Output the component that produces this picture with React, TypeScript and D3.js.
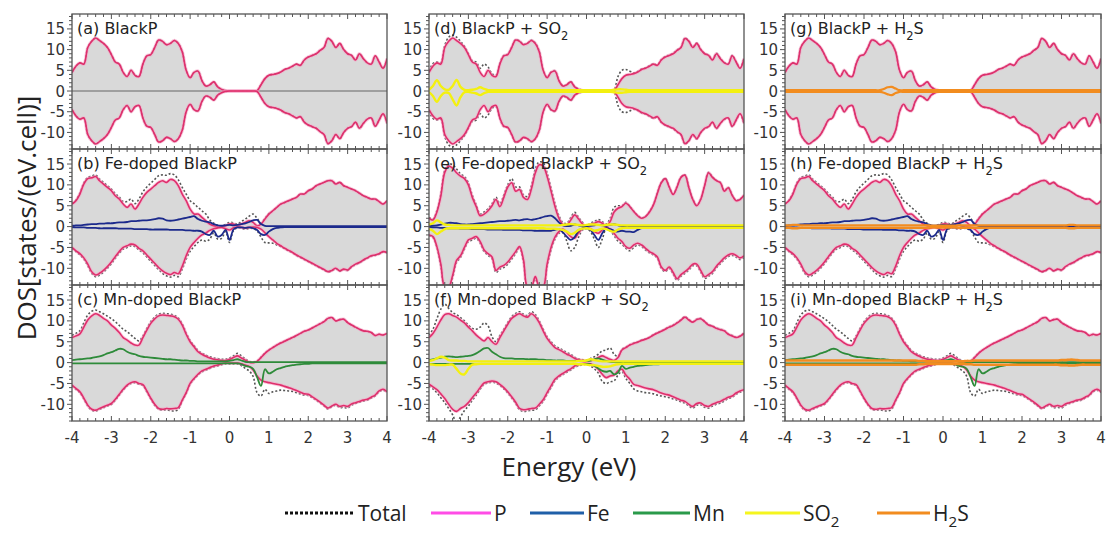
import React, { useEffect, useRef } from "react";
import * as d3 from "d3";

// energy grid, one sample every 0.1 eV from -4 to 4
const energy = d3.range(-40, 41).map((i) => i / 10);
const xTicks = [-4, -3, -2, -1, 0, 1, 2, 3, 4];
const yTicks = [-10, -5, 0, 5, 10, 15];

// ---- pristine black phosphorus (a, d, g)
const pUpBP = [
  4.5, 6.0, 6.8, 6.5, 10.5, 12.0, 12.8, 12.2, 11.5, 10.5,
  8.8, 7.0, 6.5, 4.5, 3.5, 5.0, 3.8, 3.5, 6.5, 8.5,
  8.8, 10.5, 12.3, 12.0, 11.2, 11.5, 12.2, 11.5, 9.5, 5.0,
  3.2, 4.5, 4.8, 2.5, 1.2, 1.5, 2.2, 1.0, 0.4, 0.1,
  0, 0, 0, 0, 0, 0, 0, 0.1, 1.5, 3.0,
  3.8, 4.0, 4.2, 4.6, 5.2, 5.5, 6.0, 6.5, 6.2, 7.5,
  8.2, 8.6, 9.0, 9.8, 10.5, 12.7, 12.0, 10.5, 11.5, 10.0,
  9.0, 8.6, 7.5, 9.0, 7.8, 6.8, 6.5, 8.5, 7.0, 5.5,
  7.8,
];
const pDnBP = [
  -4.5, -6.0, -6.8, -6.5, -10.5, -12.0, -12.8, -12.2, -11.5, -10.5,
  -8.8, -7.0, -6.5, -4.5, -3.5, -5.0, -3.8, -3.5, -6.5, -8.5,
  -8.8, -10.5, -12.3, -12.0, -11.2, -11.5, -12.2, -11.5, -9.5, -5.0,
  -3.2, -4.5, -4.8, -2.5, -1.2, -1.5, -2.2, -1.0, -0.4, -0.1,
  0, 0, 0, 0, 0, 0, 0, -0.1, -1.5, -3.0,
  -3.8, -4.0, -4.2, -4.6, -5.2, -5.5, -6.0, -6.5, -6.2, -7.5,
  -8.2, -8.6, -9.0, -9.8, -10.5, -12.7, -12.0, -10.5, -11.5, -10.0,
  -9.0, -8.6, -7.5, -9.0, -7.8, -6.8, -6.5, -8.5, -7.0, -5.5,
  -7.8,
];
const totUpD = [
  4.8, 6.6, 7.0, 6.8, 11.0, 13.0, 13.5, 13.0, 12.0, 10.8,
  9.0, 7.3, 7.0, 5.5, 6.5, 5.8, 4.2, 3.8, 6.7, 8.6,
  8.9, 10.6, 12.4, 12.1, 11.3, 11.6, 12.3, 11.6, 9.6, 5.1,
  3.3, 4.6, 4.9, 2.6, 1.3, 1.6, 2.3, 1.1, 0.5, 0.2,
  0.1, 0.1, 0.1, 0.1, 0.1, 0.1, 0.1, 0.3, 3.5, 5.0,
  5.2, 4.8, 4.4, 4.7, 5.3, 5.6, 6.1, 6.6, 6.3, 7.6,
  8.3, 8.7, 9.1, 9.9, 10.6, 12.8, 12.1, 10.6, 11.6, 10.1,
  9.1, 8.7, 7.6, 9.1, 7.9, 6.9, 6.6, 8.6, 7.1, 5.6,
  7.9,
];
const totDnD = [
  -4.8, -6.6, -7.0, -6.8, -11.0, -13.0, -13.5, -13.0, -12.0, -10.8,
  -9.0, -7.3, -7.0, -5.5, -6.5, -5.8, -4.2, -3.8, -6.7, -8.6,
  -8.9, -10.6, -12.4, -12.1, -11.3, -11.6, -12.3, -11.6, -9.6, -5.1,
  -3.3, -4.6, -4.9, -2.6, -1.3, -1.6, -2.3, -1.1, -0.5, -0.2,
  -0.1, -0.1, -0.1, -0.1, -0.1, -0.1, -0.1, -0.3, -3.5, -5.0,
  -5.2, -4.8, -4.4, -4.7, -5.3, -5.6, -6.1, -6.6, -6.3, -7.6,
  -8.3, -8.7, -9.1, -9.9, -10.6, -12.8, -12.1, -10.6, -11.6, -10.1,
  -9.1, -8.7, -7.6, -9.1, -7.9, -6.9, -6.6, -8.6, -7.1, -5.6,
  -7.9,
];

// ---- Fe-doped (b, h)
const pUpFe = [
  5.4, 6.2, 7.8, 10.2, 11.5, 11.7, 12.0, 11.0, 10.2, 9.4,
  8.6, 7.4, 6.6, 5.4, 4.6, 5.4, 4.2, 5.4, 7.0, 8.2,
  9.0, 9.8, 10.6, 11.0, 10.6, 11.3, 11.0, 9.8, 7.8, 6.2,
  4.2, 3.0, 3.0, 2.2, 1.4, 0.6, 0.2, 0, 0, 0.2,
  0.6, 0.6, 0.2, 0.6, 1.0, 1.4, 1.0, 0.2, 0.6, 1.8,
  3.0, 3.8, 4.6, 5.4, 5.8, 6.2, 6.6, 7.0, 7.8, 7.8,
  8.6, 9.0, 9.8, 10.2, 10.6, 11.0, 11.0, 10.2, 10.6, 9.8,
  9.4, 9.0, 8.6, 8.0, 7.4, 7.0, 6.6, 6.6, 6.0, 5.4,
  6.2,
];
const pDnFe = [
  -5.0, -5.8, -6.5, -7.5, -9.0, -10.8, -11.6, -11.2, -10.5, -9.6,
  -8.5, -7.2, -6.0, -5.0, -4.6, -4.2, -4.4, -5.2, -5.8, -6.8,
  -7.8, -8.8, -9.8, -10.6, -11.2, -11.5, -11.0, -11.3, -9.5, -7.0,
  -5.0, -3.8, -2.8, -2.0, -1.5, -0.9, -0.5, -0.3, -0.2, -0.5,
  -0.8, -0.3, -0.1, -0.2, -0.3, -0.2, -0.1, -0.2, -0.6, -1.5,
  -2.4, -3.2, -4.0, -4.6, -5.2, -5.7, -6.2, -6.8, -7.3, -7.8,
  -8.3, -8.8, -9.3, -9.8, -10.3, -10.8, -10.5, -10.0, -10.6, -10.2,
  -10.4, -9.6, -9.0, -8.6, -8.0, -7.5, -7.0, -6.8, -6.5, -6.0,
  -6.2,
];
const totUpFe = [
  5.5, 6.4, 8.0, 10.5, 11.8, 12.1, 12.4, 11.4, 10.6, 9.8,
  9.0, 7.9, 7.1, 6.0, 6.0, 6.6, 5.5, 6.6, 8.3, 9.5,
  10.4, 11.3, 12.2, 12.4, 12.3, 12.7, 12.4, 11.2, 9.4, 7.8,
  6.2, 5.5, 4.6, 3.8, 3.0, 1.6, 0.8, 0.3, 0.2, 0.5,
  1.0, 0.9, 0.6, 1.2, 1.8, 2.5, 3.0, 2.0, 0.9, 2.0,
  3.1, 3.8, 4.6, 5.4, 5.8, 6.2, 6.6, 7.0, 7.8, 7.8,
  8.6, 9.0, 9.8, 10.2, 10.6, 11.0, 11.0, 10.2, 10.6, 9.8,
  9.4, 9.0, 8.6, 8.0, 7.4, 7.0, 6.6, 6.6, 6.0, 5.4,
  6.2,
];
const totDnFe = [
  -5.2, -6.0, -6.8, -7.8, -9.4, -11.2, -12.0, -11.6, -10.9, -10.0,
  -8.9, -7.6, -6.4, -5.4, -5.0, -4.6, -4.8, -5.6, -6.3, -7.3,
  -8.3, -9.3, -10.3, -11.2, -11.8, -12.1, -11.7, -12.0, -10.2, -7.8,
  -5.9, -4.8, -3.8, -3.2, -3.5, -3.0, -1.5, -3.0, -2.8, -1.2,
  -3.8, -1.0, -0.3, -0.4, -0.6, -0.4, -0.5, -1.0, -2.5, -3.8,
  -3.9, -4.0, -4.4, -4.8, -5.3, -5.8, -6.3, -6.9, -7.4, -7.9,
  -8.4, -8.9, -9.4, -9.9, -10.4, -10.9, -10.6, -10.1, -10.7, -10.3,
  -10.5, -9.7, -9.1, -8.7, -8.1, -7.6, -7.1, -6.9, -6.6, -6.1,
  -6.3,
];
const feUpB = [
  0.2, 0.3, 0.3, 0.4, 0.5, 0.6, 0.6, 0.7, 0.7, 0.8,
  0.8, 0.9, 1.0, 1.0, 1.1, 1.3, 1.3, 1.4, 1.5, 1.5,
  1.6, 1.8, 2.0, 1.9, 1.5, 1.4, 1.5, 1.7, 1.9, 2.1,
  2.3, 2.5, 1.8, 1.4, 1.2, 1.0, 0.6, 0.3, 0.2, 0.3,
  0.4, 0.3, 0.4, 0.6, 0.8, 1.1, 1.5, 1.6, 0.6, 0.2,
  0.1, 0.1, 0.1, 0.1, 0.1, 0.1, 0.1, 0.1, 0.1, 0.1,
  0.1, 0.1, 0.1, 0.1, 0.1, 0.1, 0.1, 0.1, 0.1, 0.1,
  0.1, 0.1, 0.1, 0.1, 0.1, 0.1, 0.1, 0.1, 0.1, 0.1,
  0.1,
];
const feDnB = [
  -0.1, -0.2, -0.2, -0.2, -0.3, -0.3, -0.3, -0.4, -0.4, -0.4,
  -0.4, -0.4, -0.5, -0.5, -0.5, -0.5, -0.6, -0.6, -0.6, -0.6,
  -0.7, -0.7, -0.7, -0.7, -0.7, -0.8, -0.8, -0.8, -0.8, -0.9,
  -0.9, -1.0, -1.0, -1.2, -1.8, -2.0, -1.0, -2.4, -2.0, -0.8,
  -3.2, -0.7, -0.2, -0.2, -0.3, -0.2, -0.4, -0.8, -1.8, -2.0,
  -1.2, -0.6, -0.3, -0.2, -0.1, -0.1, -0.1, -0.1, -0.1, -0.1,
  -0.1, -0.1, -0.1, -0.1, -0.1, -0.1, -0.1, -0.1, -0.1, -0.1,
  -0.1, -0.1, -0.1, -0.1, -0.1, -0.1, -0.1, -0.1, -0.1, -0.1,
  -0.1,
];

// ---- Mn-doped (c, i)
const pUpMn = [
  6.0, 6.4, 6.9, 8.5, 10.2, 11.2, 11.7, 11.3, 10.6, 10.0,
  9.0, 8.2, 7.2, 6.0, 5.4, 4.7, 4.2, 4.2, 6.0, 7.8,
  9.4, 10.5, 11.2, 11.4, 11.3, 11.2, 11.0, 10.4, 9.0, 6.8,
  5.0, 3.8, 2.6, 2.0, 1.5, 1.1, 0.8, 0.7, 0.5, 0.5,
  0.8, 1.2, 1.6, 1.1, 0.6, 0.1, 0, 0.3, 1.2, 2.2,
  3.0, 3.6, 4.2, 4.7, 5.1, 5.6, 6.0, 6.5, 7.0, 7.5,
  7.8, 8.3, 8.8, 9.3, 9.8, 10.6, 10.8, 10.0, 10.3, 10.4,
  9.6, 9.0, 8.5, 8.0, 7.6, 7.5, 7.2, 6.5, 6.8, 6.6,
  7.0,
];
const pDnMn = [
  -5.4, -6.2, -7.0, -8.5, -10.2, -11.2, -11.4, -11.0, -10.6, -10.2,
  -9.8, -8.8, -7.6, -6.4, -5.4, -4.8, -4.6, -5.0, -5.3, -6.8,
  -8.5, -10.0, -11.0, -11.2, -11.0, -11.1, -11.0, -10.8, -9.0, -7.2,
  -5.0, -3.8, -2.8, -2.0, -1.6, -1.2, -0.8, -0.6, -0.3, -0.1,
  -0.1, -0.1, -0.1, -0.3, -0.6, -0.9, -1.8, -3.2, -4.2, -4.6,
  -4.8, -5.0, -5.2, -5.4, -5.7, -6.0, -6.3, -6.7, -7.1, -7.5,
  -7.6, -8.2, -8.8, -9.5, -10.2, -10.9, -10.4, -10.0, -10.5, -10.3,
  -10.5, -9.9, -9.6, -9.3, -9.0, -8.8, -8.3, -7.8, -6.8, -6.4,
  -7.0,
];
const totUpMn = [
  6.5, 7.0, 7.6, 9.5, 11.4, 12.3, 12.6, 12.2, 11.7, 11.1,
  10.5, 9.8, 8.9, 8.0, 7.4, 6.6, 5.8, 5.2, 6.4, 8.2,
  9.8, 10.9, 11.6, 11.8, 11.7, 11.6, 11.3, 10.7, 9.3, 7.1,
  5.3, 4.1, 2.9, 2.3, 1.8, 1.4, 1.1, 1.0, 0.8, 0.8,
  1.1, 1.6, 2.2, 1.6, 0.9, 0.3, 0.1, 0.4, 1.3, 2.3,
  3.0, 3.6, 4.2, 4.7, 5.1, 5.6, 6.0, 6.5, 7.0, 7.5,
  7.8, 8.3, 8.8, 9.3, 9.8, 10.6, 10.8, 10.0, 10.3, 10.4,
  9.6, 9.0, 8.5, 8.0, 7.6, 7.5, 7.2, 6.5, 6.8, 6.6,
  7.0,
];
const totDnMn = [
  -5.6, -6.4, -7.2, -8.7, -10.4, -11.4, -11.6, -11.2, -10.8, -10.4,
  -10.0, -9.0, -7.8, -6.6, -5.6, -5.0, -4.8, -5.2, -5.5, -7.0,
  -8.7, -10.2, -11.2, -11.4, -11.3, -11.5, -11.6, -11.2, -9.2, -7.4,
  -5.2, -4.0, -3.0, -2.2, -1.8, -1.4, -1.0, -0.8, -0.5, -0.3,
  -0.3, -0.3, -0.3, -0.7, -1.4, -2.0, -3.3, -7.2, -8.0, -6.4,
  -7.4, -7.0, -6.8, -6.6, -6.7, -6.8, -6.9, -7.2, -7.5, -7.8,
  -7.9, -8.4, -9.0, -9.7, -10.4, -11.1, -10.6, -10.2, -10.8, -10.7,
  -10.9, -10.2, -9.8, -9.5, -9.2, -9.0, -8.5, -8.0, -7.0, -6.6,
  -7.2,
];
const mnUpC = [
  0.6, 0.7, 0.8, 0.9, 1.0, 1.1, 1.3, 1.5, 1.8, 2.2,
  2.5, 2.9, 3.3, 3.2, 2.6, 2.2, 2.0, 1.6, 1.4, 1.3,
  1.2, 1.1, 1.0, 0.9, 0.8, 0.8, 0.7, 0.6, 0.5, 0.5,
  0.4, 0.4, 0.3, 0.3, 0.3, 0.3, 0.3, 0.3, 0.3, 0.3,
  0.4, 0.6, 0.8, 0.5, 0.2, 0.1, 0.1, 0.1, 0.1, 0.1,
  0.1, 0.1, 0.1, 0.1, 0.1, 0.1, 0.1, 0.1, 0.1, 0.1,
  0.1, 0.1, 0.1, 0.1, 0.1, 0.1, 0.1, 0.1, 0.1, 0.1,
  0.1, 0.1, 0.1, 0.1, 0.1, 0.1, 0.1, 0.1, 0.1, 0.1,
  0.1,
];
const mnDnC = [
  -0.2, -0.2, -0.2, -0.2, -0.2, -0.2, -0.2, -0.2, -0.2, -0.2,
  -0.2, -0.2, -0.2, -0.2, -0.2, -0.2, -0.2, -0.2, -0.2, -0.2,
  -0.2, -0.2, -0.2, -0.2, -0.2, -0.2, -0.2, -0.2, -0.2, -0.2,
  -0.2, -0.2, -0.2, -0.2, -0.2, -0.2, -0.2, -0.2, -0.2, -0.2,
  -0.2, -0.2, -0.2, -0.4, -0.8, -1.0, -1.5, -3.5, -5.6, -1.6,
  -2.6, -2.2, -1.6, -1.3, -1.0, -0.8, -0.6, -0.5, -0.4, -0.3,
  -0.3, -0.2, -0.2, -0.2, -0.2, -0.2, -0.2, -0.2, -0.2, -0.2,
  -0.2, -0.2, -0.2, -0.2, -0.2, -0.2, -0.2, -0.2, -0.2, -0.2,
  -0.2,
];

// ---- Fe-doped + SO2 (e)
const pUpFeSO2 = [
  2.0, 1.6, 3.5, 7.3, 13.0, 14.5, 14.0, 12.9, 12.1, 11.5,
  10.0, 7.0, 4.8, 2.6, 3.0, 3.8, 5.0, 6.5, 4.8, 7.0,
  9.5, 10.5, 8.5, 8.9, 7.0, 6.5, 9.0, 12.9, 14.8, 14.5,
  12.0, 8.5, 4.8, 2.0, 0.5, 0.3, 1.6, 2.8, 1.8, 0.6,
  0, 0.4, 0.8, 1.2, 0.8, 0.1, 1.2, 3.5, 4.4, 4.8,
  5.6, 4.8, 3.6, 2.6, 2.0, 2.4, 3.5, 5.2, 8.0, 10.5,
  11.5, 9.5, 7.7, 9.5, 11.8, 12.3, 9.3, 6.5, 5.0, 6.5,
  9.8, 12.9, 11.8, 11.0, 10.5, 8.5, 9.3, 7.5, 6.2, 6.5,
  7.5,
];
const pDnFeSO2 = [
  -2.0, -2.4, -4.8, -9.0, -14.5, -14.5, -11.7, -8.1, -7.0, -5.0,
  -3.2, -2.8, -2.4, -3.6, -5.6, -6.5, -7.3, -10.5, -9.7, -9.3,
  -8.5, -7.3, -6.0, -4.8, -8.0, -14.5, -14.5, -12.0, -14.5, -14.5,
  -9.0, -5.0, -2.5, -1.2, -0.6, -1.4, -2.4, -2.8, -1.5, -0.5,
  -0.2, -0.5, -1.2, -1.6, -0.8, -0.2, -0.6, -1.6, -2.8, -3.6,
  -4.8, -5.2, -4.4, -4.0, -4.4, -5.2, -6.0, -6.5, -7.3, -9.7,
  -10.5, -9.7, -11.0, -12.5, -11.5, -10.8, -10.0, -9.0, -9.0, -10.5,
  -12.0, -11.5, -10.8, -9.5, -8.5, -7.5, -6.8, -6.5, -6.9, -7.5,
  -7.0,
];
const totUpFeSO2 = [
  2.2, 1.8, 3.8, 7.8, 13.5, 15.0, 14.8, 13.8, 12.6, 12.0,
  10.5, 7.5, 5.2, 3.0, 3.5, 4.3, 5.5, 7.0, 5.5, 7.6,
  10.0, 11.5, 9.5, 9.5, 7.6, 7.2, 9.8, 13.8, 15.5, 15.3,
  12.8, 9.2, 5.5, 2.6, 1.0, 0.8, 2.2, 3.4, 2.2, 1.0,
  0.2, 0.8, 1.2, 1.7, 1.2, 0.6, 2.0, 4.6, 5.0, 5.0,
  5.8, 4.9, 3.7, 2.7, 2.1, 2.5, 3.6, 5.3, 8.1, 10.6,
  11.6, 9.6, 7.8, 9.6, 11.9, 12.4, 9.4, 6.6, 5.1, 6.6,
  9.9, 13.0, 11.9, 11.1, 10.6, 8.6, 9.4, 7.6, 6.3, 6.6,
  7.6,
];
const totDnFeSO2 = [
  -2.2, -2.6, -5.0, -9.5, -14.5, -14.5, -12.2, -8.6, -7.4, -5.4,
  -3.6, -3.2, -2.8, -4.0, -6.0, -6.9, -7.7, -11.0, -10.2, -9.8,
  -9.0, -7.8, -6.5, -5.2, -8.5, -14.5, -14.5, -12.6, -14.5, -14.5,
  -9.6, -5.6, -3.0, -1.6, -1.5, -3.5, -5.8, -5.0, -2.5, -0.8,
  -0.5, -1.2, -3.0, -5.0, -3.0, -0.6, -1.0, -2.2, -3.5, -4.2,
  -5.2, -5.8, -5.0, -4.4, -4.8, -5.6, -6.3, -6.8, -7.6, -10.0,
  -10.8, -10.0, -11.4, -12.9, -11.9, -11.2, -10.4, -9.4, -9.4, -10.9,
  -12.4, -11.9, -11.2, -9.9, -8.9, -7.9, -7.2, -6.9, -7.3, -7.9,
  -7.4,
];
const feUpE = [
  0.2, 0.2, 0.3, 0.5, 0.7, 0.9, 0.9, 0.8, 0.6, 0.5,
  0.5, 0.6, 0.7, 0.8, 0.9, 1.0, 1.1, 1.2, 1.3, 1.3,
  1.4, 1.5, 1.6, 1.5, 1.7, 1.8, 1.6, 1.8, 2.0, 2.3,
  2.5, 2.6, 2.0, 1.0, 0.3, 0.1, 0.2, 0.5, 0.3, 0.1,
  0.1, 0.2, 0.3, 0.4, 0.3, 0.2, 0.4, 0.6, 0.3, 0.1,
  0.1, 0.1, 0.1, 0.1, 0.1, 0.1, 0.1, 0.1, 0.1, 0.1,
  0.1, 0.1, 0.1, 0.1, 0.1, 0.1, 0.1, 0.1, 0.1, 0.1,
  0.1, 0.1, 0.1, 0.1, 0.1, 0.1, 0.1, 0.1, 0.1, 0.1,
  0.1,
];
const feDnE = [
  -0.1, -0.2, -0.2, -0.3, -0.3, -0.4, -0.4, -0.4, -0.5, -0.5,
  -0.5, -0.6, -0.6, -0.6, -0.6, -0.7, -0.7, -0.7, -0.7, -0.8,
  -0.8, -0.8, -0.8, -0.8, -0.9, -0.9, -0.9, -1.0, -1.0, -1.0,
  -1.0, -1.0, -0.8, -0.6, -1.4, -2.4, -3.2, -2.5, -1.0, -0.4,
  -0.3, -0.8, -2.0, -3.2, -1.6, -0.4, -0.6, -1.0, -1.2, -1.0,
  -1.2, -1.2, -1.3, -0.8, -0.4, -0.2, -0.1, -0.1, -0.1, -0.1,
  -0.1, -0.1, -0.1, -0.1, -0.1, -0.1, -0.1, -0.1, -0.1, -0.1,
  -0.1, -0.1, -0.1, -0.1, -0.1, -0.1, -0.1, -0.1, -0.1, -0.1,
  -0.1,
];

// ---- Mn-doped + SO2 (f)
const pUpMnSO2 = [
  6.0, 7.0, 8.5, 10.2, 11.5, 11.7, 11.3, 10.9, 10.2, 9.5,
  8.5, 7.6, 6.6, 5.8, 5.2, 6.0, 5.0, 4.4, 6.0, 7.6,
  9.2, 10.6, 11.3, 11.7, 11.2, 10.9, 11.7, 11.0, 9.6, 7.6,
  5.8, 4.6, 3.6, 3.1, 2.6, 2.0, 1.6, 1.0, 0.7, 0.5,
  0.4, 0.5, 0.7, 1.2, 1.6, 1.2, 0.8, 0.5, 1.2, 3.0,
  3.6, 4.2, 4.6, 4.9, 5.3, 5.6, 6.0, 6.6, 7.1, 7.5,
  8.0, 8.5, 8.9, 9.5, 10.2, 10.9, 10.2, 9.7, 10.3, 10.5,
  9.8, 9.0, 8.7, 8.2, 7.9, 7.6, 6.8, 6.4, 6.0, 6.3,
  7.0,
];
const pDnMnSO2 = [
  -5.2, -5.8, -6.5, -7.5, -8.6, -10.0, -11.2, -11.7, -11.0, -10.5,
  -9.6, -8.4, -7.3, -6.0, -4.9, -4.6, -4.4, -4.6, -5.2, -6.0,
  -7.0, -8.2, -9.5, -11.0, -11.3, -11.2, -11.0, -10.9, -10.0, -8.9,
  -7.2, -5.6, -4.0, -3.2, -2.6, -2.0, -1.5, -0.8, -0.5, -0.2,
  -0.2, -0.3, -0.8, -1.6, -2.8, -3.6, -3.2, -3.0, -2.0, -1.6,
  -3.0, -4.0, -5.2, -5.5, -5.8, -6.1, -6.3, -6.5, -6.9, -7.3,
  -7.6, -7.8, -8.2, -8.6, -9.0, -9.3, -10.0, -10.5, -9.8, -9.7,
  -10.3, -10.5, -10.0, -9.6, -9.3, -8.8, -8.3, -8.0, -7.3, -6.8,
  -6.5,
];
const totUpMnSO2 = [
  6.5, 8.0, 10.5, 12.8, 14.0, 13.0, 12.0, 11.5, 10.8, 10.0,
  9.0, 8.2, 8.0, 8.5, 9.5, 8.8, 6.2, 5.0, 6.5, 8.0,
  9.6, 11.0, 11.8, 12.2, 11.6, 11.3, 12.2, 11.5, 10.0, 8.0,
  6.2, 5.0, 4.0, 3.5, 3.0, 2.4, 2.0, 1.3, 0.9, 0.7,
  0.6, 1.0, 1.4, 2.0, 2.8, 3.0, 3.5, 2.0, 1.5, 3.2,
  3.7, 4.3, 4.7, 5.0, 5.4, 5.7, 6.1, 6.7, 7.2, 7.6,
  8.1, 8.6, 9.0, 9.6, 10.3, 11.0, 10.3, 9.8, 10.4, 10.6,
  9.9, 9.1, 8.8, 8.3, 8.0, 7.7, 6.9, 6.5, 6.1, 6.4,
  7.1,
];
const totDnMnSO2 = [
  -5.6, -6.3, -7.2, -8.4, -9.6, -11.0, -12.5, -14.5, -13.0, -11.5,
  -10.4, -9.0, -7.8, -6.4, -5.2, -4.9, -4.7, -4.9, -5.5, -6.3,
  -7.3, -8.5, -9.8, -11.3, -11.7, -11.6, -11.4, -11.3, -10.4, -9.3,
  -7.6, -6.0, -4.4, -3.5, -2.9, -2.3, -1.8, -1.1, -0.8, -0.5,
  -0.4, -0.8, -1.5, -2.5, -4.5, -5.0, -4.6, -4.4, -3.0, -2.2,
  -3.8, -5.0, -6.3, -6.8, -7.0, -7.2, -7.3, -7.5, -7.8, -8.0,
  -8.2, -8.4, -8.7, -9.0, -9.4, -9.7, -10.4, -10.9, -10.2, -10.1,
  -10.7, -10.9, -10.4, -10.0, -9.7, -9.2, -8.6, -8.3, -7.6, -7.1,
  -6.8,
];
const mnUpF = [
  0.6, 0.8, 1.0, 1.2, 1.4, 1.5, 1.4, 1.3, 1.4, 1.5,
  1.6, 1.8, 2.2, 2.8, 3.4, 3.5, 2.6, 2.0, 1.4, 1.1,
  1.0, 1.0, 0.9, 0.9, 0.9, 0.8, 0.8, 0.8, 0.7, 0.7,
  0.6, 0.6, 0.5, 0.5, 0.5, 0.4, 0.4, 0.4, 0.4, 0.4,
  0.4, 0.5, 0.8, 1.0, 0.7, 0.4, 0.2, 0.1, 0.1, 0.1,
  0.1, 0.1, 0.1, 0.1, 0.1, 0.1, 0.1, 0.1, 0.1, 0.1,
  0.1, 0.1, 0.1, 0.1, 0.1, 0.1, 0.1, 0.1, 0.1, 0.1,
  0.1, 0.1, 0.1, 0.1, 0.1, 0.1, 0.1, 0.1, 0.1, 0.1,
  0.1,
];
const mnDnF = [
  -0.3, -0.3, -0.3, -0.3, -0.3, -0.3, -0.3, -0.3, -0.3, -0.3,
  -0.3, -0.3, -0.3, -0.3, -0.3, -0.3, -0.3, -0.3, -0.3, -0.3,
  -0.3, -0.3, -0.3, -0.3, -0.3, -0.3, -0.3, -0.3, -0.3, -0.3,
  -0.3, -0.3, -0.3, -0.3, -0.3, -0.3, -0.3, -0.3, -0.3, -0.3,
  -0.3, -0.4, -0.8, -1.4, -2.0, -2.2, -2.0, -2.8, -2.4, -0.8,
  -1.5, -1.2, -1.0, -0.8, -0.7, -0.6, -0.5, -0.4, -0.4, -0.3,
  -0.2, -0.2, -0.2, -0.2, -0.2, -0.2, -0.2, -0.2, -0.2, -0.2,
  -0.2, -0.2, -0.2, -0.2, -0.2, -0.2, -0.2, -0.2, -0.2, -0.2,
  -0.2,
];

// ---- SO2 adsorbate (d, e, f)
const so2UpD = [
  0.3, 1.2, 2.6, 1.2, 0.4, 0.3, 1.2, 2.7, 1.0, 0.3,
  0.2, 0.3, 0.5, 0.9, 0.5, 0.2, 0.2, 0.2, 0.2, 0.2,
  0.2, 0.2, 0.2, 0.2, 0.2, 0.2, 0.2, 0.2, 0.2, 0.2,
  0.2, 0.2, 0.2, 0.2, 0.2, 0.2, 0.2, 0.2, 0.2, 0.2,
  0.2, 0.2, 0.2, 0.2, 0.2, 0.2, 0.2, 0.3, 0.4, 0.4,
  0.3, 0.2, 0.2, 0.2, 0.2, 0.2, 0.2, 0.2, 0.2, 0.2,
  0.2, 0.2, 0.2, 0.2, 0.2, 0.2, 0.2, 0.2, 0.2, 0.2,
  0.2, 0.2, 0.2, 0.2, 0.2, 0.2, 0.2, 0.2, 0.2, 0.2,
  0.2,
];
const so2DnD = [
  -0.3, -1.2, -2.6, -1.2, -0.4, -0.5, -2.0, -3.5, -1.5, -0.3,
  -0.2, -0.4, -0.6, -1.0, -0.5, -0.2, -0.2, -0.2, -0.2, -0.2,
  -0.2, -0.2, -0.2, -0.2, -0.2, -0.2, -0.2, -0.2, -0.2, -0.2,
  -0.2, -0.2, -0.2, -0.2, -0.2, -0.2, -0.2, -0.2, -0.2, -0.2,
  -0.2, -0.2, -0.2, -0.2, -0.2, -0.2, -0.2, -0.3, -0.4, -0.4,
  -0.3, -0.2, -0.2, -0.2, -0.2, -0.2, -0.2, -0.2, -0.2, -0.2,
  -0.2, -0.2, -0.2, -0.2, -0.2, -0.2, -0.2, -0.2, -0.2, -0.2,
  -0.2, -0.2, -0.2, -0.2, -0.2, -0.2, -0.2, -0.2, -0.2, -0.2,
  -0.2,
];
const so2UpE = [
  0.5, 0.8, 1.5, 1.0, 0.5, 0.4, 0.3, 0.3, 0.3, 0.3,
  0.3, 0.3, 0.3, 0.3, 0.3, 0.3, 0.3, 0.3, 0.3, 0.3,
  0.3, 0.3, 0.3, 0.3, 0.3, 0.3, 0.3, 0.3, 0.3, 0.3,
  0.3, 0.3, 0.3, 0.3, 0.4, 0.5, 0.6, 0.5, 0.4, 0.3,
  0.4, 0.5, 0.5, 0.4, 0.3, 0.4, 0.5, 0.5, 0.4, 0.3,
  0.3, 0.3, 0.3, 0.3, 0.3, 0.3, 0.3, 0.3, 0.3, 0.3,
  0.3, 0.3, 0.3, 0.3, 0.3, 0.3, 0.3, 0.3, 0.3, 0.3,
  0.3, 0.3, 0.3, 0.3, 0.3, 0.3, 0.3, 0.3, 0.3, 0.3,
  0.3,
];
const so2DnE = [
  -0.5, -1.0, -1.8, -1.2, -0.6, -0.4, -0.4, -0.4, -0.4, -0.4,
  -0.4, -0.4, -0.4, -0.4, -0.4, -0.4, -0.4, -0.4, -0.4, -0.4,
  -0.4, -0.4, -0.4, -0.4, -0.4, -0.4, -0.4, -0.4, -0.4, -0.4,
  -0.5, -0.5, -0.5, -0.6, -0.8, -1.2, -1.8, -1.5, -0.8, -0.5,
  -0.4, -0.6, -1.0, -0.8, -0.5, -0.6, -1.0, -1.2, -0.7, -0.4,
  -0.3, -0.3, -0.3, -0.3, -0.3, -0.3, -0.3, -0.3, -0.3, -0.3,
  -0.3, -0.3, -0.3, -0.3, -0.3, -0.3, -0.3, -0.3, -0.3, -0.3,
  -0.3, -0.3, -0.3, -0.3, -0.3, -0.3, -0.3, -0.3, -0.3, -0.3,
  -0.3,
];
const so2UpF = [
  0.4, 0.6, 1.0, 1.4, 1.2, 0.6, 0.5, 0.5, 0.4, 0.4,
  0.3, 0.3, 0.3, 0.3, 0.3, 0.3, 0.3, 0.3, 0.3, 0.3,
  0.3, 0.3, 0.3, 0.3, 0.3, 0.3, 0.3, 0.3, 0.3, 0.3,
  0.3, 0.3, 0.3, 0.3, 0.3, 0.3, 0.3, 0.3, 0.4, 0.4,
  0.5, 0.8, 0.6, 0.4, 0.3, 0.3, 0.3, 0.3, 0.3, 0.3,
  0.3, 0.3, 0.3, 0.3, 0.3, 0.3, 0.3, 0.3, 0.3, 0.3,
  0.3, 0.3, 0.3, 0.3, 0.3, 0.3, 0.3, 0.3, 0.3, 0.3,
  0.3, 0.3, 0.3, 0.3, 0.3, 0.3, 0.3, 0.3, 0.3, 0.3,
  0.3,
];
const so2DnF = [
  -0.4, -0.5, -0.6, -0.6, -0.6, -0.5, -0.5, -1.5, -2.6, -2.8,
  -1.5, -0.5, -0.4, -0.3, -0.3, -0.3, -0.3, -0.3, -0.3, -0.3,
  -0.3, -0.3, -0.3, -0.3, -0.3, -0.3, -0.3, -0.3, -0.3, -0.3,
  -0.3, -0.3, -0.3, -0.3, -0.3, -0.3, -0.3, -0.3, -0.4, -0.4,
  -0.5, -0.6, -0.6, -0.8, -1.0, -1.0, -0.9, -0.6, -0.4, -0.3,
  -0.3, -0.3, -0.3, -0.3, -0.3, -0.3, -0.3, -0.3, -0.3, -0.3,
  -0.3, -0.3, -0.3, -0.3, -0.3, -0.3, -0.3, -0.3, -0.3, -0.3,
  -0.3, -0.3, -0.3, -0.3, -0.3, -0.3, -0.3, -0.3, -0.3, -0.3,
  -0.3,
];

// ---- H2S adsorbate (g, h, i)
const h2sUpG = [
  0.2, 0.2, 0.2, 0.2, 0.2, 0.2, 0.2, 0.2, 0.2, 0.2,
  0.2, 0.2, 0.2, 0.2, 0.2, 0.2, 0.2, 0.2, 0.2, 0.2,
  0.2, 0.2, 0.2, 0.2, 0.2, 0.5, 0.9, 1.0, 0.6, 0.2,
  0.2, 0.2, 0.2, 0.2, 0.2, 0.2, 0.2, 0.2, 0.2, 0.2,
  0.2, 0.2, 0.2, 0.2, 0.2, 0.2, 0.2, 0.2, 0.2, 0.2,
  0.2, 0.2, 0.2, 0.2, 0.2, 0.2, 0.2, 0.2, 0.2, 0.2,
  0.2, 0.2, 0.2, 0.2, 0.2, 0.2, 0.2, 0.2, 0.2, 0.2,
  0.2, 0.2, 0.2, 0.2, 0.2, 0.2, 0.2, 0.2, 0.2, 0.2,
  0.2,
];
const h2sDnG = [
  -0.2, -0.2, -0.2, -0.2, -0.2, -0.2, -0.2, -0.2, -0.2, -0.2,
  -0.2, -0.2, -0.2, -0.2, -0.2, -0.2, -0.2, -0.2, -0.2, -0.2,
  -0.2, -0.2, -0.2, -0.2, -0.2, -0.4, -0.8, -1.0, -0.5, -0.2,
  -0.2, -0.2, -0.2, -0.2, -0.2, -0.2, -0.2, -0.2, -0.2, -0.2,
  -0.2, -0.2, -0.2, -0.2, -0.2, -0.2, -0.2, -0.2, -0.2, -0.2,
  -0.2, -0.2, -0.2, -0.2, -0.2, -0.2, -0.2, -0.2, -0.2, -0.2,
  -0.2, -0.2, -0.2, -0.2, -0.2, -0.2, -0.2, -0.2, -0.2, -0.2,
  -0.2, -0.2, -0.2, -0.2, -0.2, -0.2, -0.2, -0.2, -0.2, -0.2,
  -0.2,
];
const h2sUpH = [
  0.3, 0.3, 0.4, 0.4, 0.3, 0.3, 0.3, 0.3, 0.3, 0.3,
  0.3, 0.3, 0.3, 0.3, 0.3, 0.3, 0.3, 0.3, 0.3, 0.3,
  0.3, 0.3, 0.3, 0.3, 0.3, 0.3, 0.3, 0.3, 0.3, 0.3,
  0.3, 0.3, 0.3, 0.3, 0.3, 0.3, 0.3, 0.2, 0.2, 0.2,
  0.2, 0.2, 0.2, 0.2, 0.3, 0.3, 0.3, 0.3, 0.3, 0.3,
  0.3, 0.3, 0.3, 0.3, 0.3, 0.3, 0.3, 0.3, 0.3, 0.3,
  0.3, 0.3, 0.3, 0.3, 0.3, 0.3, 0.3, 0.3, 0.3, 0.3,
  0.3, 0.3, 0.4, 0.4, 0.3, 0.3, 0.3, 0.3, 0.3, 0.3,
  0.3,
];
const h2sDnH = [
  -0.3, -0.3, -0.4, -0.4, -0.3, -0.3, -0.3, -0.3, -0.3, -0.3,
  -0.3, -0.3, -0.3, -0.3, -0.3, -0.3, -0.3, -0.3, -0.3, -0.3,
  -0.3, -0.3, -0.3, -0.3, -0.3, -0.3, -0.3, -0.3, -0.3, -0.3,
  -0.3, -0.3, -0.3, -0.3, -0.3, -0.3, -0.3, -0.2, -0.2, -0.2,
  -0.2, -0.2, -0.2, -0.2, -0.3, -0.3, -0.3, -0.3, -0.3, -0.3,
  -0.3, -0.3, -0.3, -0.3, -0.3, -0.3, -0.3, -0.3, -0.3, -0.3,
  -0.3, -0.3, -0.3, -0.3, -0.3, -0.3, -0.3, -0.3, -0.3, -0.3,
  -0.3, -0.3, -0.4, -0.4, -0.3, -0.3, -0.3, -0.3, -0.3, -0.3,
  -0.3,
];
const h2sUpI = [
  0.5, 0.5, 0.5, 0.5, 0.5, 0.5, 0.5, 0.5, 0.5, 0.5,
  0.5, 0.5, 0.5, 0.5, 0.5, 0.5, 0.5, 0.5, 0.5, 0.5,
  0.5, 0.5, 0.5, 0.5, 0.5, 0.5, 0.5, 0.5, 0.5, 0.5,
  0.5, 0.5, 0.5, 0.5, 0.4, 0.4, 0.3, 0.3, 0.3, 0.3,
  0.3, 0.3, 0.3, 0.3, 0.3, 0.3, 0.4, 0.4, 0.5, 0.5,
  0.5, 0.5, 0.5, 0.5, 0.5, 0.5, 0.5, 0.5, 0.5, 0.5,
  0.5, 0.5, 0.5, 0.5, 0.5, 0.5, 0.5, 0.5, 0.5, 0.5,
  0.6, 0.6, 0.7, 0.7, 0.6, 0.5, 0.5, 0.5, 0.5, 0.5,
  0.5,
];
const h2sDnI = [
  -0.5, -0.5, -0.5, -0.5, -0.5, -0.5, -0.5, -0.5, -0.5, -0.5,
  -0.5, -0.5, -0.5, -0.5, -0.5, -0.5, -0.5, -0.5, -0.5, -0.5,
  -0.5, -0.5, -0.5, -0.5, -0.5, -0.5, -0.5, -0.5, -0.5, -0.5,
  -0.5, -0.5, -0.5, -0.5, -0.4, -0.4, -0.3, -0.3, -0.3, -0.3,
  -0.3, -0.3, -0.3, -0.3, -0.3, -0.3, -0.4, -0.4, -0.5, -0.5,
  -0.5, -0.5, -0.5, -0.5, -0.5, -0.5, -0.5, -0.5, -0.5, -0.5,
  -0.5, -0.5, -0.5, -0.5, -0.5, -0.5, -0.5, -0.5, -0.5, -0.5,
  -0.6, -0.6, -0.7, -0.7, -0.6, -0.5, -0.5, -0.5, -0.5, -0.5,
  -0.5,
];

const FE = "#1c2a8c";
const MN = "#2e8b3a";
const SO2 = "#f3f010";
const H2S = "#f28c1f";

type Extra = { up: number[]; dn: number[]; color: string; width: number };
type Panel = {
  label: string[];
  pUp: number[];
  pDn: number[];
  tUp: number[];
  tDn: number[];
  extra: Extra[];
  zero?: boolean;
};

// label pieces starting with "_" are subscripts
const panels: Panel[] = [
  { label: ["(a) BlackP"], pUp: pUpBP, pDn: pDnBP, tUp: pUpBP, tDn: pDnBP, extra: [], zero: true },
  { label: ["(b) Fe-doped BlackP"], pUp: pUpFe, pDn: pDnFe, tUp: totUpFe, tDn: totDnFe,
    extra: [{ up: feUpB, dn: feDnB, color: FE, width: 1.8 }] },
  { label: ["(c) Mn-doped BlackP"], pUp: pUpMn, pDn: pDnMn, tUp: totUpMn, tDn: totDnMn,
    extra: [{ up: mnUpC, dn: mnDnC, color: MN, width: 1.8 }] },
  { label: ["(d) BlackP + SO", "_2"], pUp: pUpBP, pDn: pDnBP, tUp: totUpD, tDn: totDnD,
    extra: [{ up: so2UpD, dn: so2DnD, color: SO2, width: 2.4 }] },
  { label: ["(e) Fe-doped BlackP + SO", "_2"], pUp: pUpFeSO2, pDn: pDnFeSO2, tUp: totUpFeSO2, tDn: totDnFeSO2,
    extra: [{ up: feUpE, dn: feDnE, color: FE, width: 1.8 }, { up: so2UpE, dn: so2DnE, color: SO2, width: 2.4 }] },
  { label: ["(f) Mn-doped BlackP + SO", "_2"], pUp: pUpMnSO2, pDn: pDnMnSO2, tUp: totUpMnSO2, tDn: totDnMnSO2,
    extra: [{ up: mnUpF, dn: mnDnF, color: MN, width: 1.8 }, { up: so2UpF, dn: so2DnF, color: SO2, width: 2.4 }] },
  { label: ["(g) BlackP + H", "_2", "S"], pUp: pUpBP, pDn: pDnBP, tUp: pUpBP, tDn: pDnBP,
    extra: [{ up: h2sUpG, dn: h2sDnG, color: H2S, width: 2.2 }] },
  { label: ["(h) Fe-doped BlackP + H", "_2", "S"], pUp: pUpFe, pDn: pDnFe, tUp: totUpFe, tDn: totDnFe,
    extra: [{ up: feUpB, dn: feDnB, color: FE, width: 1.8 }, { up: h2sUpH, dn: h2sDnH, color: H2S, width: 2.4 }] },
  { label: ["(i) Mn-doped BlackP + H", "_2", "S"], pUp: pUpMn, pDn: pDnMn, tUp: totUpMn, tDn: totDnMn,
    extra: [{ up: mnUpC, dn: mnDnC, color: MN, width: 1.8 }, { up: h2sUpI, dn: h2sDnI, color: H2S, width: 2.6 }] },
];

const legendItems = [
  { name: ["Total"], color: "#111", dash: "3,2", x0: 285, x1: 355 },
  { name: ["P"], color: "#ff4ce6", dash: null, x0: 431, x1: 491 },
  { name: ["Fe"], color: "#1f5fa8", dash: null, x0: 530, x1: 584 },
  { name: ["Mn"], color: "#2a9a4a", dash: null, x0: 633, x1: 690 },
  { name: ["SO", "_2"], color: "#f5f51e", dash: null, x0: 745, x1: 800 },
  { name: ["H", "_2", "S"], color: "#f28c1f", dash: null, x0: 877, x1: 930 },
];

const COLS = [[72, 387], [429, 744], [785, 1101]];
const ROWS = [[14, 149], [149, 285], [285, 421]];

function addPieces(text: any, pieces: string[], sub: number) {
  let lowered = false;
  pieces.forEach((p) => {
    if (p.startsWith("_")) {
      text.append("tspan").attr("dy", sub).attr("font-size", "0.72em").text(p.slice(1));
      lowered = true;
    } else {
      text.append("tspan").attr("dy", lowered ? -sub : 0).text(p);
      lowered = false;
    }
  });
}

const App = () => {
  const svgRef = useRef<SVGSVGElement>(null);

  useEffect(() => {
    const width = 1107;
    const height = 535;
    const svg = d3.select(svgRef.current);
    svg.selectAll("*").remove();
    svg.attr("width", width).attr("height", height);
    svg.append("rect").attr("width", width).attr("height", height).attr("fill", "#fff");

    panels.forEach((pn, k) => {
      const col = Math.floor(k / 3);
      const row = k % 3;
      const [x0, x1] = COLS[col];
      const [y0, y1] = ROWS[row];
      const x = d3.scaleLinear().domain([-4, 4]).range([x0, x1]);
      const y = d3.scaleLinear().domain([-14, 18.6]).range([y1, y0]);

      const clipId = `clip-${k}`;
      svg.append("clipPath").attr("id", clipId)
        .append("rect").attr("x", x0).attr("y", y0).attr("width", x1 - x0).attr("height", y1 - y0);
      const g = svg.append("g").attr("clip-path", `url(#${clipId})`);

      const line = d3.line<number>()
        .x((_, i) => x(energy[i]))
        .y((d) => y(d))
        .curve(d3.curveCatmullRom.alpha(0.5));
      const area = d3.area<number>()
        .x((_, i) => x(energy[i]))
        .y0((_, i) => y(pn.pDn[i]))
        .y1((d) => y(d))
        .curve(d3.curveCatmullRom.alpha(0.5));

      g.append("path").attr("d", area(pn.pUp)).attr("fill", "#d9d9d9");

      if (pn.zero) {
        g.append("line").attr("x1", x0).attr("x2", x1).attr("y1", y(0)).attr("y2", y(0))
          .attr("stroke", "#666").attr("stroke-width", 1.2);
      }

      [pn.tUp, pn.tDn].forEach((s) => {
        g.append("path").attr("d", line(s)).attr("fill", "none")
          .attr("stroke", "#555").attr("stroke-width", 1.6).attr("stroke-dasharray", "2,2");
      });
      [pn.pUp, pn.pDn].forEach((s) => {
        g.append("path").attr("d", line(s)).attr("fill", "none")
          .attr("stroke", "#f6a3c6").attr("stroke-width", 3.4).attr("opacity", 0.6);
        g.append("path").attr("d", line(s)).attr("fill", "none")
          .attr("stroke", "#df2f6c").attr("stroke-width", 1.6);
      });
      pn.extra.forEach((ex) => {
        [ex.up, ex.dn].forEach((s) => {
          g.append("path").attr("d", line(s)).attr("fill", "none")
            .attr("stroke", ex.color).attr("stroke-width", ex.width);
        });
      });

      // frame
      svg.append("rect").attr("x", x0).attr("y", y0).attr("width", x1 - x0).attr("height", y1 - y0)
        .attr("fill", "none").attr("stroke", "#555").attr("stroke-width", 1.3);

      // top/bottom ticks (inward)
      const tk = svg.append("g").attr("stroke", "#555").attr("stroke-width", 1);
      d3.range(-40, 41, 2).forEach((v) => {
        const e = v / 10;
        const len = v % 10 === 0 ? 5 : 3;
        tk.append("line").attr("x1", x(e)).attr("x2", x(e)).attr("y1", y1).attr("y2", y1 - len);
        tk.append("line").attr("x1", x(e)).attr("x2", x(e)).attr("y1", y0).attr("y2", y0 + len);
      });
      // left ticks (outward)
      d3.range(-14, 19).forEach((v) => {
        const len = v % 5 === 0 ? 5 : 3;
        tk.append("line").attr("x1", x0).attr("x2", x0 - len).attr("y1", y(v)).attr("y2", y(v));
      });

      yTicks.forEach((v) => {
        svg.append("text").attr("x", x0 - 7).attr("y", y(v) + 5.5).attr("text-anchor", "end")
          .attr("font-family", "DejaVu Sans").attr("font-size", 15).attr("fill", "#333").text(v);
      });
      if (row === 2) {
        xTicks.forEach((v) => {
          svg.append("text").attr("x", x(v)).attr("y", y1 + 22).attr("text-anchor", "middle")
            .attr("font-family", "DejaVu Sans").attr("font-size", 15).attr("fill", "#333").text(v);
        });
      }

      const lab = svg.append("text").attr("x", x0 + 5).attr("y", y0 + 20)
        .attr("font-family", "DejaVu Sans").attr("font-size", 16).attr("fill", "#222");
      addPieces(lab, pn.label, 6);
    });

    // axis titles
    svg.append("text").attr("transform", "translate(36,218) rotate(-90)").attr("text-anchor", "middle")
      .attr("font-family", "Open Sans").attr("font-size", 26).attr("fill", "#222")
      .text("DOS[states/(eV.cell)]");
    svg.append("text").attr("x", 569).attr("y", 476).attr("text-anchor", "middle")
      .attr("font-family", "Open Sans").attr("font-size", 26).attr("fill", "#222")
      .text("Energy (eV)");

    // legend
    legendItems.forEach((it) => {
      const ln = svg.append("line").attr("x1", it.x0).attr("x2", it.x1).attr("y1", 513).attr("y2", 513)
        .attr("stroke", it.color).attr("stroke-width", 3);
      if (it.dash) ln.attr("stroke-dasharray", it.dash);
      const t = svg.append("text").attr("x", it.x1 + 3).attr("y", 521)
        .attr("font-family", "Open Sans").attr("font-size", 21).attr("fill", "#222");
      addPieces(t, it.name, 6);
    });
  }, []);

  return (
    <div style={{ position: "absolute", left: 0, top: 0 }}>
      <svg ref={svgRef}></svg>
    </div>
  );
};

export default App;
